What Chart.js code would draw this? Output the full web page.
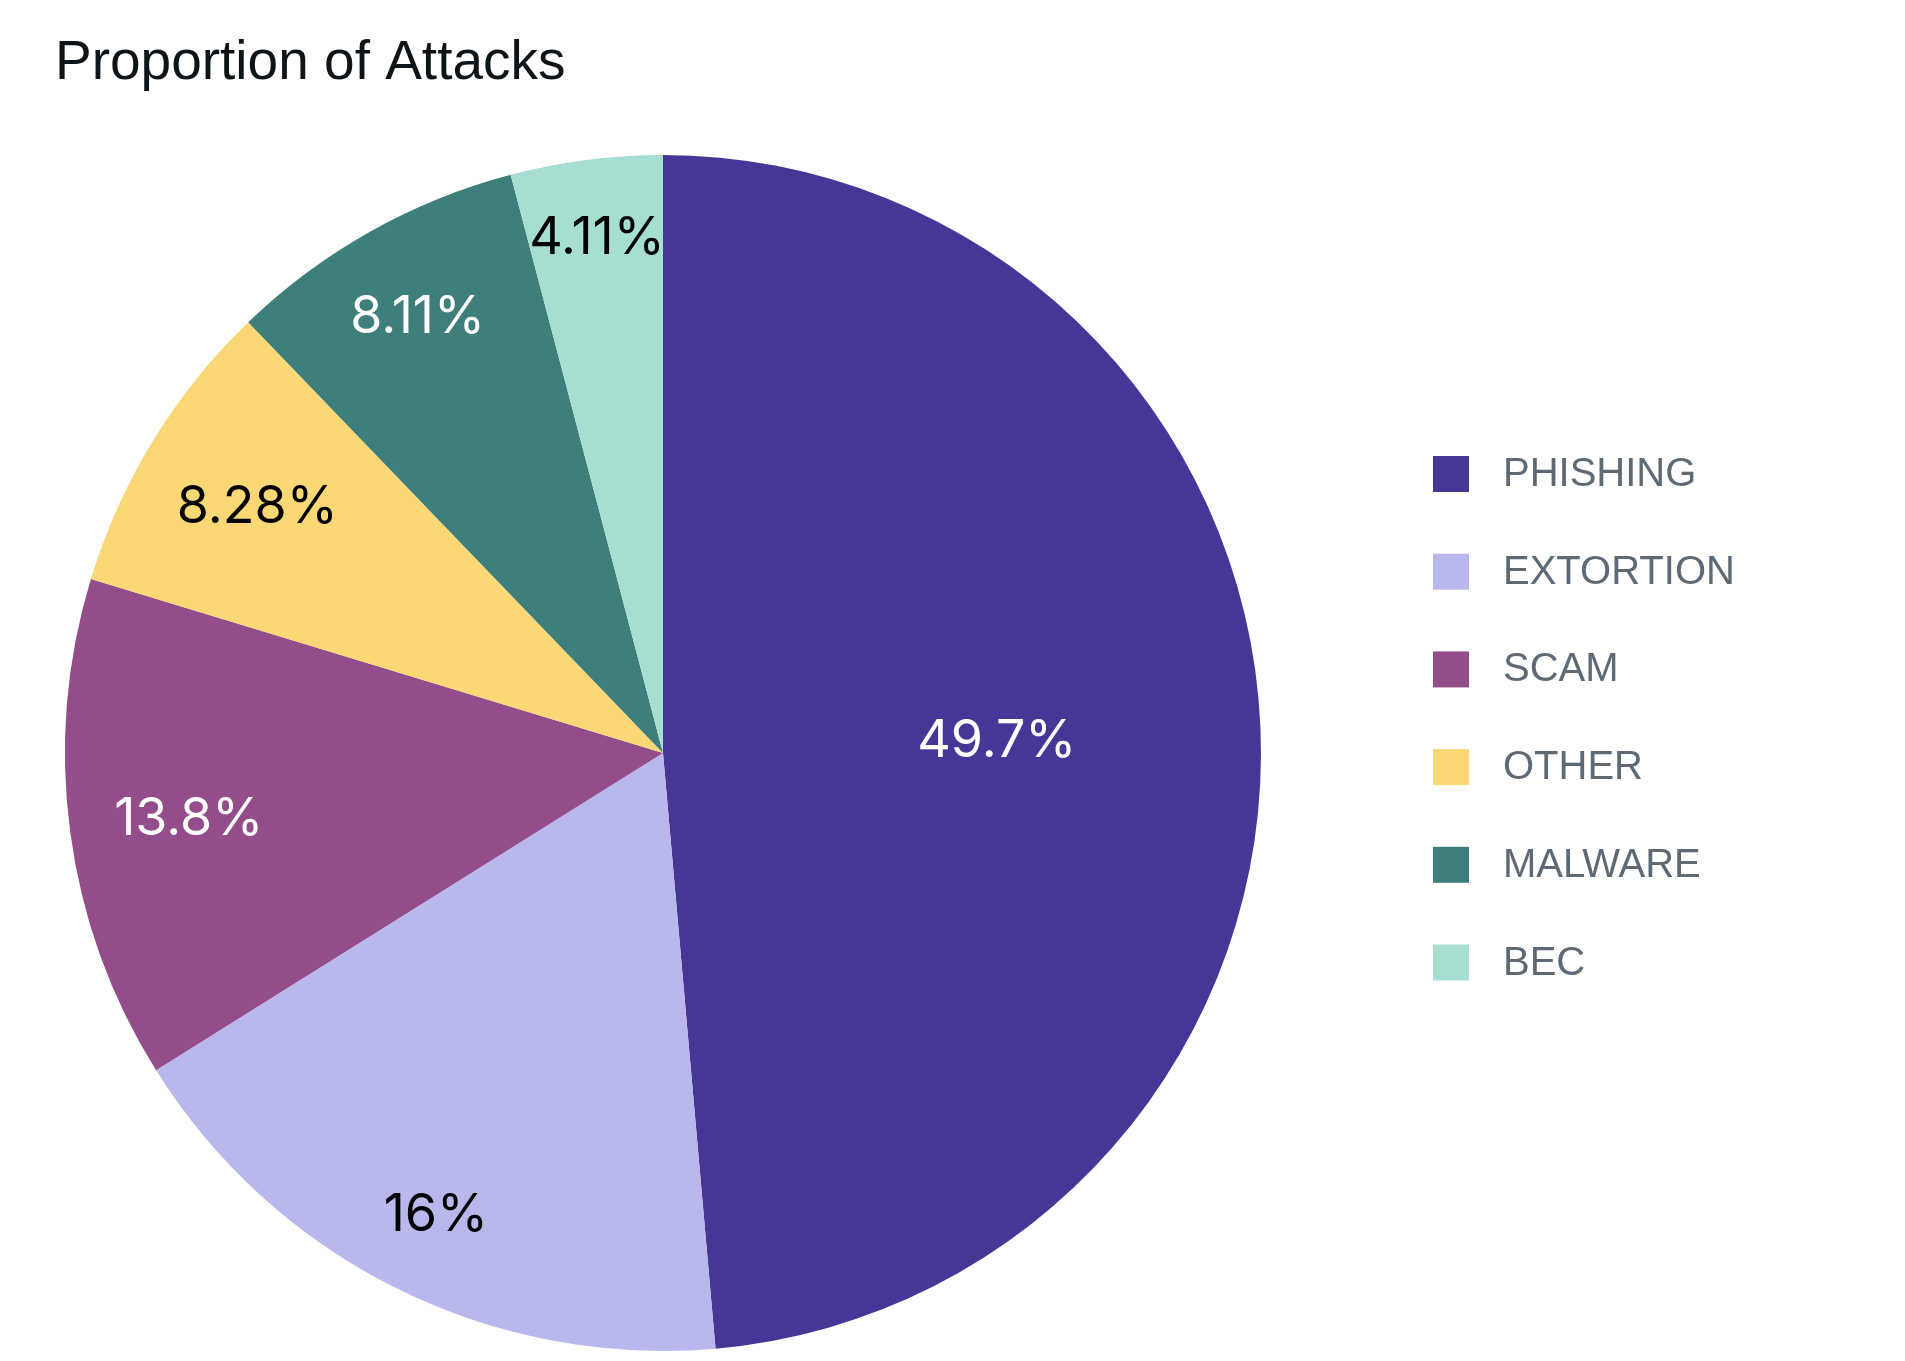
<!DOCTYPE html>
<html>
<head>
<meta charset="utf-8">
<title>Proportion of Attacks</title>
<script src="https://cdn.jsdelivr.net/npm/chart.js"></script>
<style>
  html, body { margin: 0; padding: 0; background: #fff; }
  #wrap { width: 1905px; height: 1361px; position: relative; }
</style>
</head>
<body>
<div id="wrap"><canvas id="pieChart"></canvas></div>
<script>
const categories = ['PHISHING', 'EXTORTION', 'SCAM', 'OTHER', 'MALWARE', 'BEC'];
// slice sizes as drawn in the picture (percent of the circle)
const shares = [48.6, 17.5, 13.6, 8.1, 8.1, 4.1];
// percent texts printed on the slices
const labelTexts = ['49.7%', '16%', '13.8%', '8.28%', '8.11%', '4.11%'];
const colors = ['#483696', '#b8b8ec', '#924d8a', '#fbd775', '#3e7f7c', '#a6ded2'];

const FONT = "'Liberation Sans', Arial, sans-serif";
const LABEL_FONT = "Inter, 'Liberation Sans', Arial, sans-serif";

function isDark(hex) {
  const n = parseInt(hex.slice(1), 16);
  const r = (n >> 16) & 255, g = (n >> 8) & 255, b = n & 255;
  return (0.299 * r + 0.587 * g + 0.114 * b) < 150;
}

// percent labels inside the slices, pushed out as far as they fit
const sliceLabels = {
  id: 'sliceLabels',
  afterDatasetsDraw(chart, args, opts) {
    const ctx = chart.ctx;
    const meta = chart.getDatasetMeta(0);
    const size = opts.size;
    const capH = size * 0.727;
    ctx.save();
    ctx.font = size + 'px ' + LABEL_FONT;
    ctx.textAlign = 'left';
    ctx.textBaseline = 'alphabetic';
    meta.data.forEach((arc, i) => {
      const {x, y, startAngle, endAngle, outerRadius} = arc.getProps(['x', 'y', 'startAngle', 'endAngle', 'outerRadius'], true);
      const text = labelTexts[i];
      const m = ctx.measureText(text);
      const w = m.actualBoundingBoxLeft + m.actualBoundingBoxRight;
      const mid = (startAngle + endAngle) / 2;
      const ux = Math.cos(mid), uy = Math.sin(mid);
      const sweep = endAngle - startAngle;
      const corners = [[-w / 2, -capH / 2], [w / 2, -capH / 2], [-w / 2, capH / 2], [w / 2, capH / 2]];
      const lim = outerRadius - opts.pad;
      let d = 0;
      if (sweep >= Math.PI / 2) {
        d = outerRadius * opts.bigSlice;
      } else {
        const sx = Math.cos(startAngle), sy = Math.sin(startAngle);
        const ex = Math.cos(endAngle), ey = Math.sin(endAngle);
        let dCircle = 0;
        for (let t = lim; t > 0; t -= 1) {
          const cx = ux * t, cy = uy * t;
          let inCircle = true, inWedge = true;
          for (const [ox, oy] of corners) {
            const px = cx + ox, py = cy + oy;
            if (Math.hypot(px, py) > lim) inCircle = false;
            if (sx * py - sy * px < opts.margin || px * ey - py * ex < opts.margin) inWedge = false;
          }
          if (inCircle && !dCircle) dCircle = t;
          if (inCircle && inWedge) { d = t; break; }
        }
        if (!d) d = dCircle;
      }
      ctx.fillStyle = isDark(colors[i]) ? '#ffffff' : '#000000';
      const cx = x + ux * d, cy = y + uy * d;
      ctx.fillText(text, cx - w / 2 + m.actualBoundingBoxLeft, cy + capH / 2);
    });
    ctx.restore();
  }
};

// legend drawn on the right, one row per category
const sideLegend = {
  id: 'sideLegend',
  afterDraw(chart, args, opts) {
    const ctx = chart.ctx;
    const ds = chart.data.datasets[0];
    ctx.save();
    ctx.font = opts.size + 'px ' + FONT;
    ctx.textBaseline = 'middle';
    ctx.textAlign = 'left';
    chart.data.labels.forEach((label, i) => {
      const cy = opts.top + i * opts.step;
      ctx.fillStyle = ds.backgroundColor[i];
      ctx.fillRect(opts.left, cy - opts.box / 2, opts.box, opts.box);
      ctx.fillStyle = opts.color;
      ctx.fillText(label, opts.left + opts.box + opts.gap, cy + 1);
    });
    ctx.restore();
  }
};

new Chart(document.getElementById('pieChart'), {
  type: 'pie',
  data: {
    labels: categories,
    datasets: [{
      data: shares,
      backgroundColor: colors,
      borderWidth: 0,
      hoverOffset: 0,
      offset: 0
    }]
  },
  options: {
    responsive: true,
    maintainAspectRatio: false,
    animation: false,
    layout: {
      padding: { left: 55, right: 634, top: 0, bottom: 10 }
    },
    plugins: {
      legend: { display: false },
      tooltip: { enabled: false },
      title: {
        display: true,
        text: 'Proportion of Attacks',
        align: 'start',
        color: '#0e1519',
        font: { family: FONT, size: 55, weight: 'normal', lineHeight: 1.2 },
        padding: { top: 31, bottom: 58 }
      },
      sliceLabels: { size: 52, pad: 45, margin: 4, bigSlice: 0.557 },
      sideLegend: { left: 1433, top: 474, step: 97.7, box: 36, gap: 34, size: 40, color: '#5d6975' }
    }
  },
  plugins: [sliceLabels, sideLegend]
});
</script>
</body>
</html>
